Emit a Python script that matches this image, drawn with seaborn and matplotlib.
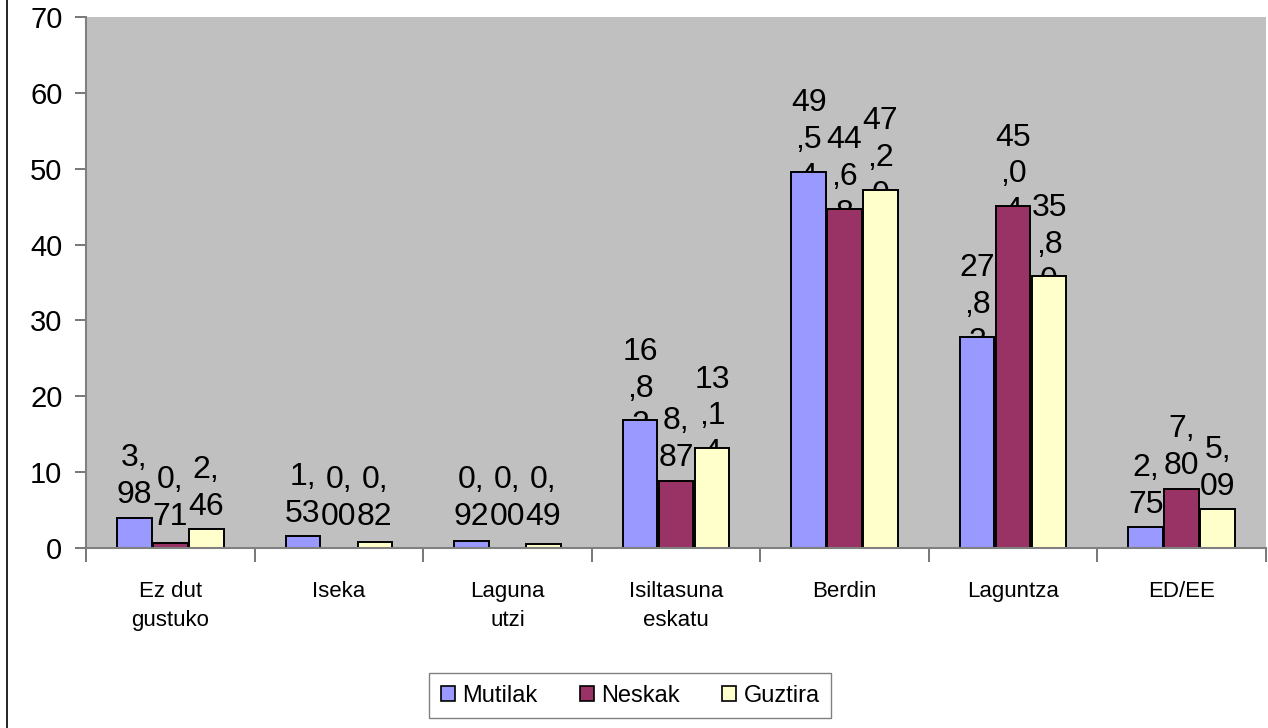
import numpy as np
import pandas as pd
import matplotlib
matplotlib.use("Agg")
import matplotlib.pyplot as plt
from matplotlib.patches import Patch
from matplotlib.lines import Line2D
import seaborn as sns

# Data
categories = ["Ez dut\ngustuko", "Iseka", "Laguna\nutzi", "Isiltasuna\neskatu",
              "Berdin", "Laguntza", "ED/EE"]
groups = ["Mutilak", "Neskak", "Guztira"]
mutilak = [3.98, 1.53, 0.92, 16.82, 49.54, 27.83, 2.75]
neskak = [0.71, 0.00, 0.00, 8.87, 44.68, 45.04, 7.80]
guztira = [2.46, 0.82, 0.49, 13.14, 47.20, 35.80, 5.09]
colors = ["#9999FF", "#993366", "#FFFFCC"]

plt.rcParams["font.family"] = ["Liberation Sans", "DejaVu Sans"]

# Long format table for seaborn
rows = []
for name, vals in zip(groups, [mutilak, neskak, guztira]):
    for cat, v in zip(categories, vals):
        rows.append({"kategoria": cat, "taldea": name, "balioa": v})
df = pd.DataFrame(rows)

fig = plt.figure(figsize=(12.68, 7.28), dpi=100)
ax = fig.add_axes([86 / 1268, 1 - 548 / 728, (1266 - 86) / 1268, (548 - 17) / 728])
ax.set_facecolor("#C0C0C0")

sns.barplot(data=df, x="kategoria", y="balioa", hue="taldea", order=categories,
            hue_order=groups, palette=colors, saturation=1, width=0.64, gap=0.04,
            edgecolor="black", linewidth=1.4, errorbar=None, legend=False,
            zorder=2, ax=ax)


def wrap_label(v):
    # Excel wrapped the labels every two characters
    s = f"{v:.2f}".replace(".", ",")
    return "\n".join(s[i:i + 2] for i in range(0, len(s), 2))


for cont, vals in zip(ax.containers, [mutilak, neskak, guztira]):
    for bar, v in zip(cont, vals):
        xc = bar.get_x() + bar.get_width() / 2
        lab = wrap_label(v)
        off = 4.2 if lab.count("\n") == 2 else 5.4
        ax.text(xc, max(v + off, 6.5), lab, ha="center", va="center",
                fontsize=23, linespacing=1.3, zorder=0.5)

ax.set_ylim(0, 70)
ax.set_yticks(range(0, 71, 10))
ax.set_xlim(-0.5, 6.5)
ax.set_xticks(range(len(categories)))
ax.set_xticklabels(categories, fontsize=16, linespacing=1.45)
ax.set_xticks(np.arange(-0.5, 7, 1), minor=True)
ax.tick_params(axis="x", which="major", length=0, pad=24)
ax.tick_params(axis="x", which="minor", length=10, width=1.2, color="#606060")
ax.tick_params(axis="y", length=8, width=1.2, color="#606060", labelsize=21, pad=9)
ax.set_xlabel("")
ax.set_ylabel("")

for side in ["top", "right"]:
    ax.spines[side].set_visible(False)
for side in ["left", "bottom"]:
    ax.spines[side].set_color("#808080")
    ax.spines[side].set_linewidth(1.5)

handles = [Patch(facecolor=c, edgecolor="black", linewidth=1.2) for c in colors]
leg = fig.legend(handles, groups, loc="lower center", bbox_to_anchor=(0.497, -0.003),
                 ncol=3, fontsize=17, frameon=True, fancybox=False,
                 edgecolor="#606060", handlelength=0.6, handleheight=0.6,
                 handletextpad=0.3, columnspacing=1.8, borderpad=0.5)
leg.get_frame().set_linewidth(1.0)

# outer chart border on the left
fig.add_artist(Line2D([7 / 1268, 7 / 1268], [0, 1], color="black", linewidth=1.2,
                      transform=fig.transFigure))

fig.savefig("out.png", dpi=100)
